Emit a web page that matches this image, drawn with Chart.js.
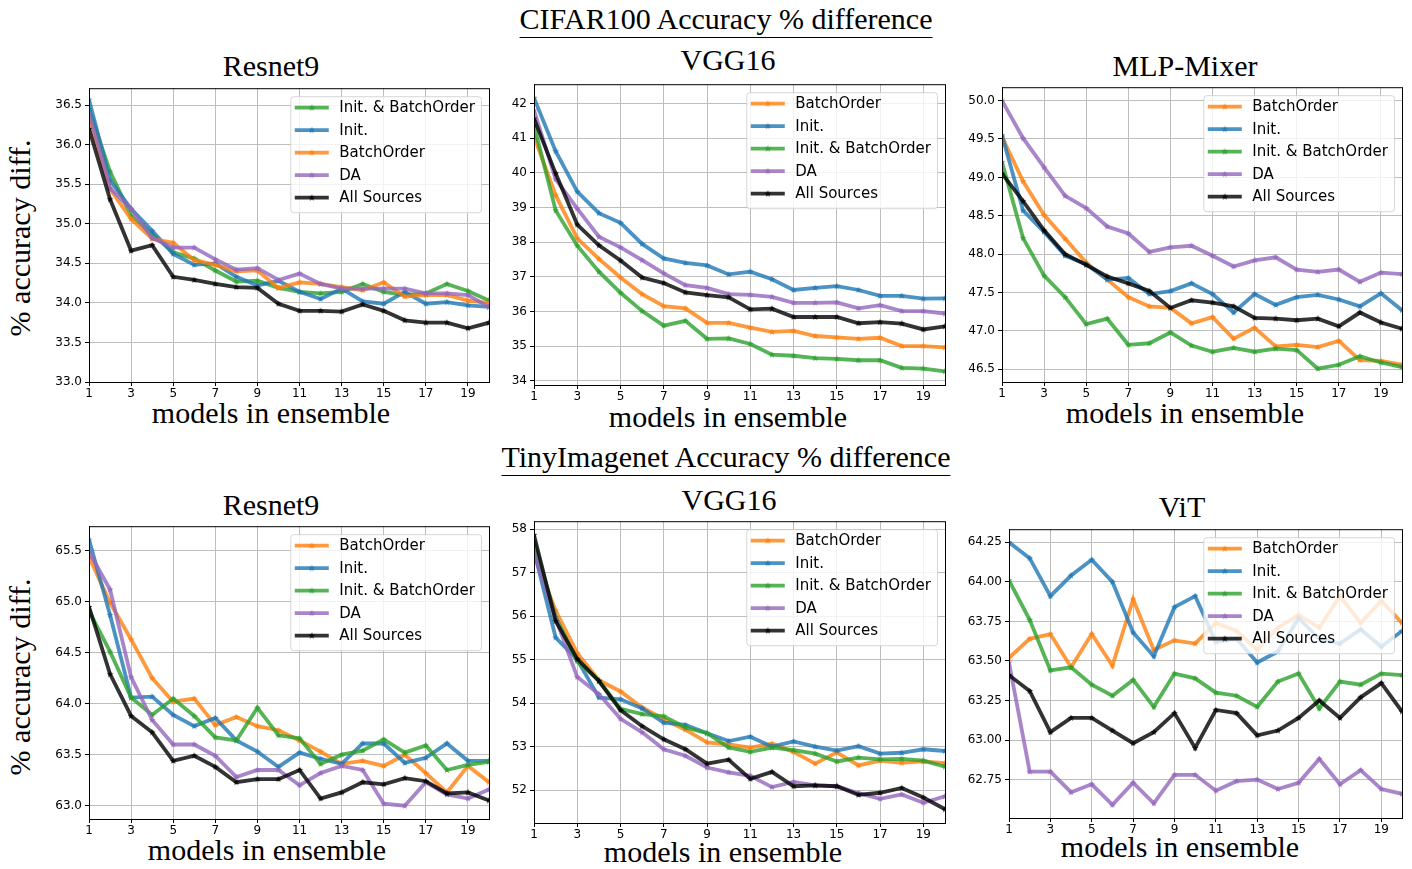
<!DOCTYPE html>
<html>
<head>
<meta charset="utf-8">
<script src="https://cdn.jsdelivr.net/npm/chart.js@4.4.0/dist/chart.umd.min.js"></script>
<style>
  body { margin: 0; width: 1412px; height: 869px; position: relative; overflow: hidden; background: #fff; }
  canvas { position: absolute; }
  .lbl {
    position: absolute; white-space: nowrap; color: #000;
    font-family: "Liberation Serif", serif; font-size: 30px; line-height: 30px;
    transform: translateX(-50%);
  }
  .head { border-bottom: 1.4px solid #000; padding-bottom: 3px; }
  .ylab { transform: translate(-50%, -50%) rotate(-90deg); }
</style>
</head>
<body>

<div class="lbl head" style="left:726px; top:4px">CIFAR100 Accuracy % difference</div>
<div class="lbl head" style="left:726px; top:442px">TinyImagenet Accuracy % difference</div>

<div class="lbl" style="left:271px; top:51px">Resnet9</div>
<div class="lbl" style="left:728px; top:45px">VGG16</div>
<div class="lbl" style="left:1185px; top:51px">MLP-Mixer</div>
<div class="lbl" style="left:271px; top:490px">Resnet9</div>
<div class="lbl" style="left:729px; top:485px">VGG16</div>
<div class="lbl" style="left:1182px; top:492px">ViT</div>

<div class="lbl" style="left:271px; top:398px">models in ensemble</div>
<div class="lbl" style="left:728px; top:402px">models in ensemble</div>
<div class="lbl" style="left:1185px; top:398px">models in ensemble</div>
<div class="lbl" style="left:267px; top:835px">models in ensemble</div>
<div class="lbl" style="left:723px; top:837px">models in ensemble</div>
<div class="lbl" style="left:1180px; top:832px">models in ensemble</div>

<div class="lbl ylab" style="left:20px; top:238px">% accuracy diff.</div>
<div class="lbl ylab" style="left:20px; top:677px">% accuracy diff.</div>

<script>
// x axis: number of models in the ensemble
const xModels = [1, 2, 3, 4, 5, 6, 7, 8, 9, 10, 11, 12, 13, 14, 15, 16, 17, 18, 19, 20];
const xTicks = [1, 3, 5, 7, 9, 11, 13, 15, 17, 19];

// CIFAR100 - Resnet9
const c100ResInitBatch = [36.45, 35.66, 35.10, 34.87, 34.64, 34.56, 34.41, 34.27, 34.28, 34.19, 34.14, 34.12, 34.14, 34.24, 34.14, 34.10, 34.12, 34.24, 34.15, 34.03];
const c100ResInit      = [36.57, 35.55, 35.19, 34.91, 34.62, 34.48, 34.50, 34.33, 34.22, 34.28, 34.14, 34.05, 34.18, 34.02, 33.99, 34.14, 33.99, 34.01, 33.97, 33.95];
const c100ResBatch     = [36.33, 35.44, 35.06, 34.81, 34.76, 34.54, 34.48, 34.40, 34.41, 34.19, 34.26, 34.24, 34.20, 34.16, 34.26, 34.08, 34.10, 34.10, 34.03, 34.00];
const c100ResDA        = [36.40, 35.45, 35.19, 34.82, 34.70, 34.70, 34.55, 34.42, 34.44, 34.29, 34.37, 34.24, 34.18, 34.18, 34.18, 34.18, 34.12, 34.12, 34.10, 33.95];
const c100ResAll       = [36.20, 35.31, 34.66, 34.73, 34.33, 34.29, 34.24, 34.20, 34.19, 33.99, 33.90, 33.90, 33.89, 33.98, 33.90, 33.78, 33.75, 33.75, 33.68, 33.75];
const c100ResTicks = [33.0, 33.5, 34.0, 34.5, 35.0, 35.5, 36.0, 36.5];

// CIFAR100 - VGG16
const c100VggBatch     = [41.05, 39.36, 38.11, 37.52, 36.98, 36.50, 36.15, 36.09, 35.67, 35.67, 35.53, 35.41, 35.44, 35.29, 35.25, 35.21, 35.24, 35.00, 35.00, 34.96];
const c100VggInit      = [42.17, 40.63, 39.46, 38.84, 38.56, 37.95, 37.53, 37.40, 37.33, 37.07, 37.15, 36.93, 36.62, 36.68, 36.73, 36.62, 36.45, 36.45, 36.37, 36.38];
const c100VggInitBatch = [41.38, 38.92, 37.90, 37.15, 36.54, 36.01, 35.59, 35.73, 35.21, 35.22, 35.06, 34.75, 34.72, 34.65, 34.63, 34.59, 34.59, 34.37, 34.35, 34.27];
const c100VggDA        = [41.81, 39.82, 38.97, 38.16, 37.85, 37.48, 37.10, 36.76, 36.68, 36.50, 36.48, 36.42, 36.25, 36.25, 36.26, 36.09, 36.18, 36.01, 36.01, 35.94];
const c100VggAll       = [41.57, 39.99, 38.51, 37.91, 37.47, 36.98, 36.82, 36.55, 36.47, 36.41, 36.06, 36.08, 35.84, 35.84, 35.84, 35.66, 35.69, 35.65, 35.48, 35.57];
const c100VggTicks = [34, 35, 36, 37, 38, 39, 40, 41, 42];

// CIFAR100 - MLP-Mixer
const c100MixBatch     = [49.53, 48.95, 48.51, 48.20, 47.89, 47.67, 47.44, 47.32, 47.30, 47.10, 47.18, 46.90, 47.04, 46.80, 46.82, 46.79, 46.87, 46.62, 46.61, 46.56];
const c100MixInit      = [49.55, 48.57, 48.29, 47.98, 47.87, 47.67, 47.69, 47.48, 47.52, 47.62, 47.48, 47.24, 47.48, 47.34, 47.44, 47.47, 47.41, 47.32, 47.49, 47.27];
const c100MixInitBatch = [49.20, 48.21, 47.72, 47.44, 47.09, 47.16, 46.82, 46.84, 46.98, 46.81, 46.73, 46.78, 46.73, 46.77, 46.75, 46.51, 46.56, 46.67, 46.59, 46.53];
const c100MixDA        = [50.00, 49.51, 49.13, 48.76, 48.60, 48.36, 48.27, 48.03, 48.09, 48.11, 47.98, 47.84, 47.92, 47.96, 47.80, 47.77, 47.80, 47.64, 47.76, 47.74];
const c100MixAll       = [49.05, 48.69, 48.31, 48.00, 47.86, 47.71, 47.62, 47.52, 47.30, 47.40, 47.37, 47.32, 47.17, 47.16, 47.14, 47.16, 47.06, 47.24, 47.11, 47.03];
const c100MixTicks = [46.5, 47.0, 47.5, 48.0, 48.5, 49.0, 49.5, 50.0];

// TinyImagenet - Resnet9
const tinyResBatch     = [65.44, 64.99, 64.63, 64.25, 64.02, 64.05, 63.79, 63.87, 63.78, 63.74, 63.64, 63.53, 63.41, 63.44, 63.39, 63.50, 63.32, 63.13, 63.39, 63.23];
const tinyResInit      = [65.61, 64.87, 64.06, 64.07, 63.89, 63.78, 63.86, 63.64, 63.53, 63.38, 63.52, 63.46, 63.41, 63.61, 63.61, 63.42, 63.47, 63.61, 63.44, 63.44];
const tinyResInitBatch = [64.91, 64.51, 64.06, 63.89, 64.05, 63.88, 63.67, 63.64, 63.96, 63.69, 63.66, 63.41, 63.50, 63.54, 63.65, 63.52, 63.59, 63.35, 63.40, 63.43];
const tinyResDA        = [65.49, 65.12, 64.26, 63.84, 63.60, 63.60, 63.49, 63.28, 63.35, 63.35, 63.20, 63.32, 63.39, 63.35, 63.02, 63.00, 63.23, 63.11, 63.07, 63.16];
const tinyResAll       = [64.95, 64.29, 63.88, 63.72, 63.44, 63.49, 63.38, 63.23, 63.26, 63.26, 63.35, 63.07, 63.13, 63.23, 63.21, 63.27, 63.24, 63.12, 63.13, 63.05];
const tinyResTicks = [63.0, 63.5, 64.0, 64.5, 65.0, 65.5];

// TinyImagenet - VGG16
const tinyVggBatch     = [57.42, 56.13, 55.15, 54.53, 54.27, 53.90, 53.63, 53.39, 53.10, 53.05, 52.98, 53.07, 52.88, 52.61, 52.87, 52.57, 52.68, 52.63, 52.66, 52.62];
const tinyVggInit      = [57.50, 55.51, 55.00, 54.13, 54.09, 53.88, 53.55, 53.50, 53.31, 53.13, 53.23, 53.00, 53.12, 53.00, 52.91, 53.01, 52.84, 52.86, 52.94, 52.90];
const tinyVggInitBatch = [57.72, 55.98, 54.96, 54.52, 53.87, 53.75, 53.70, 53.44, 53.31, 52.98, 52.88, 52.98, 52.92, 52.84, 52.66, 52.75, 52.71, 52.72, 52.68, 52.54];
const tinyVggDA        = [57.46, 55.95, 54.60, 54.21, 53.64, 53.33, 52.94, 52.79, 52.52, 52.41, 52.33, 52.07, 52.19, 52.11, 52.09, 51.93, 51.80, 51.90, 51.71, 51.86];
const tinyVggAll       = [57.87, 55.89, 55.02, 54.51, 53.84, 53.47, 53.17, 52.94, 52.61, 52.70, 52.26, 52.42, 52.09, 52.11, 52.09, 51.89, 51.94, 52.05, 51.83, 51.56];
const tinyVggTicks = [52, 53, 54, 55, 56, 57, 58];

// TinyImagenet - ViT
const tinyVitBatch     = [63.52, 63.64, 63.67, 63.46, 63.67, 63.47, 63.89, 63.57, 63.63, 63.61, 63.74, 63.69, 63.57, 63.71, 63.79, 63.71, 63.91, 63.74, 63.88, 63.74];
const tinyVitInit      = [64.25, 64.15, 63.91, 64.04, 64.14, 64.00, 63.68, 63.53, 63.84, 63.91, 63.62, 63.64, 63.49, 63.56, 63.77, 63.64, 63.61, 63.70, 63.59, 63.69];
const tinyVitInitBatch = [64.01, 63.76, 63.44, 63.46, 63.35, 63.28, 63.38, 63.21, 63.42, 63.39, 63.30, 63.28, 63.21, 63.37, 63.42, 63.20, 63.37, 63.35, 63.42, 63.41];
const tinyVitDA        = [63.49, 62.80, 62.80, 62.67, 62.72, 62.59, 62.73, 62.60, 62.78, 62.78, 62.68, 62.74, 62.75, 62.69, 62.73, 62.88, 62.72, 62.81, 62.69, 62.66];
const tinyVitAll       = [63.41, 63.31, 63.05, 63.14, 63.14, 63.06, 62.98, 63.05, 63.17, 62.95, 63.19, 63.17, 63.03, 63.06, 63.14, 63.25, 63.14, 63.27, 63.36, 63.18];
const tinyVitTicks = [62.75, 63.00, 63.25, 63.50, 63.75, 64.00, 64.25];

const ORANGE = [255, 127, 14], BLUE = [31, 119, 180], GREEN = [44, 160, 44], PURPLE = [148, 103, 189], BLACK = [0, 0, 0];
const NAMES_A = ['Init. & BatchOrder', 'Init.', 'BatchOrder', 'DA', 'All Sources'];
const NAMES_B = ['BatchOrder', 'Init.', 'Init. & BatchOrder', 'DA', 'All Sources'];

// area = plot box [left, top, right, bottom] on the page
const panels = [
  { area: [89, 84, 489, 382], names: NAMES_A, colors: [GREEN, BLUE, ORANGE, PURPLE, BLACK],
    series: [c100ResInitBatch, c100ResInit, c100ResBatch, c100ResDA, c100ResAll], yTicks: c100ResTicks, dec: 1, yMin: 33 },
  { area: [534, 80, 945, 385], names: NAMES_B, colors: [ORANGE, BLUE, GREEN, PURPLE, BLACK],
    series: [c100VggBatch, c100VggInit, c100VggInitBatch, c100VggDA, c100VggAll], yTicks: c100VggTicks, dec: 0 },
  { area: [1002, 83, 1402, 382], names: NAMES_B, colors: [ORANGE, BLUE, GREEN, PURPLE, BLACK],
    series: [c100MixBatch, c100MixInit, c100MixInitBatch, c100MixDA, c100MixAll], yTicks: c100MixTicks, dec: 1 },
  { area: [89, 522, 489, 819], names: NAMES_B, colors: [ORANGE, BLUE, GREEN, PURPLE, BLACK],
    series: [tinyResBatch, tinyResInit, tinyResInitBatch, tinyResDA, tinyResAll], yTicks: tinyResTicks, dec: 1 },
  { area: [534, 517, 945, 823], names: NAMES_B, colors: [ORANGE, BLUE, GREEN, PURPLE, BLACK],
    series: [tinyVggBatch, tinyVggInit, tinyVggInitBatch, tinyVggDA, tinyVggAll], yTicks: tinyVggTicks, dec: 0 },
  { area: [1009, 525, 1402, 818], names: NAMES_B, colors: [ORANGE, BLUE, GREEN, PURPLE, BLACK],
    series: [tinyVitBatch, tinyVitInit, tinyVitInitBatch, tinyVitDA, tinyVitAll], yTicks: tinyVitTicks, dec: 2 },
];

const rgba = (c, a) => `rgba(${c[0]},${c[1]},${c[2]},${a})`;
const TICK_FONT = { family: 'DejaVu Sans', size: 12 };
const LINE_ALPHA = 0.8;
const GRID = '#bdbdbd';

// filled five-point star, used as the point marker
function starImage(color, r) {
  const c = document.createElement('canvas');
  const s = Math.ceil(r * 2 + 2);
  c.width = c.height = s;
  const g = c.getContext('2d');
  g.fillStyle = color;
  g.beginPath();
  for (let k = 0; k < 10; k++) {
    const rad = k % 2 ? r * 0.42 : r;
    const a = -Math.PI / 2 + k * Math.PI / 5;
    g.lineTo(s / 2 + rad * Math.cos(a), s / 2 + rad * Math.sin(a));
  }
  g.closePath();
  g.fill();
  return c;
}

// axes frame on top of the lines, then the legend box
function frameLegend(p) {
  return {
    id: 'frameLegend',
    afterDatasetsDraw(chart) {
      const ctx = chart.ctx, ca = chart.chartArea;
      ctx.save();
      ctx.strokeStyle = '#000';
      ctx.lineWidth = 1;
      ctx.strokeRect(ca.left + 0.5, ca.top + 0.5, ca.right - ca.left, ca.bottom - ca.top);

      ctx.font = '15px "DejaVu Sans"';
      const tw = Math.max(...p.names.map(n => ctx.measureText(n).width));
      const bw = 49 + tw + 6, bh = 116;
      const bx = ca.right - 8 - bw, by = ca.top + 8;
      ctx.beginPath();
      ctx.roundRect(bx + 0.5, by + 0.5, bw, bh, 3);
      ctx.fillStyle = 'rgba(255,255,255,0.8)';
      ctx.fill();
      ctx.strokeStyle = 'rgba(204,204,204,0.8)';
      ctx.stroke();

      p.names.forEach((n, i) => {
        const y = by + 11.5 + i * 22.5;
        ctx.strokeStyle = rgba(p.colors[i], LINE_ALPHA);
        ctx.lineWidth = 3.8;
        ctx.beginPath();
        ctx.moveTo(bx + 4.5, y);
        ctx.lineTo(bx + 38.5, y);
        ctx.stroke();
        const st = p.stars[i];
        ctx.drawImage(st, bx + 21.5 - st.width / 2, y - st.height / 2);
        ctx.fillStyle = '#000';
        ctx.textBaseline = 'middle';
        ctx.fillText(n, bx + 49, y + 0.5);
      });
      ctx.restore();
    }
  };
}

function makeChart(p) {
  const [L, T, R, B] = p.area;
  const ML = 60, MT = 6, MR = 6, MB = 28;
  const cv = document.createElement('canvas');
  cv.width = R - L + ML + MR;
  cv.height = B - T + MT + MB;
  cv.style.left = (L - ML) + 'px';
  cv.style.top = (T - MT) + 'px';
  document.body.appendChild(cv);

  // matplotlib-style 5% margins around the data
  const all = p.series.flat();
  const lo = Math.min(...all), hi = Math.max(...all), pad = (hi - lo) * 0.05;
  p.stars = p.colors.map(c => starImage(rgba(c, 0.8), 3.6));

  new Chart(cv, {
    type: 'line',
    data: {
      datasets: p.series.map((s, i) => ({
        label: p.names[i],
        data: s.map((v, k) => ({ x: xModels[k], y: v })),
        borderColor: rgba(p.colors[i], LINE_ALPHA),
        borderWidth: 3.8,
        pointStyle: p.stars[i],
        pointRadius: 3,
        tension: 0,
        fill: false,
        clip: 0,
        order: 10 - i
      }))
    },
    options: {
      responsive: false,
      animation: false,
      events: [],
      layout: { padding: { left: 0, top: MT, right: MR, bottom: 0 }, autoPadding: false },
      scales: {
        x: {
          type: 'linear', min: 1, max: 20,
          afterBuildTicks: s => { s.ticks = xTicks.map(v => ({ value: v })); },
          afterFit: s => { s.height = MB; },
          ticks: { font: TICK_FONT, color: '#000', padding: 1, maxRotation: 0, autoSkip: false },
          grid: { color: GRID, tickColor: '#000', tickLength: 4, lineWidth: 1 },
          border: { color: '#000', width: 1 }
        },
        y: {
          type: 'linear',
          min: p.yMin !== undefined ? p.yMin : lo - pad,
          max: hi + pad,
          afterBuildTicks: s => { s.ticks = p.yTicks.map(v => ({ value: v })); },
          afterFit: s => { s.width = ML; },
          ticks: { font: TICK_FONT, color: '#000', padding: 3, callback: v => Number(v).toFixed(p.dec) },
          grid: { color: GRID, tickColor: '#000', tickLength: 4, lineWidth: 1 },
          border: { color: '#000', width: 1 }
        }
      },
      plugins: { legend: { display: false }, tooltip: { enabled: false } }
    },
    plugins: [frameLegend(p)]
  });
}

panels.forEach(makeChart);
</script>
</body>
</html>
